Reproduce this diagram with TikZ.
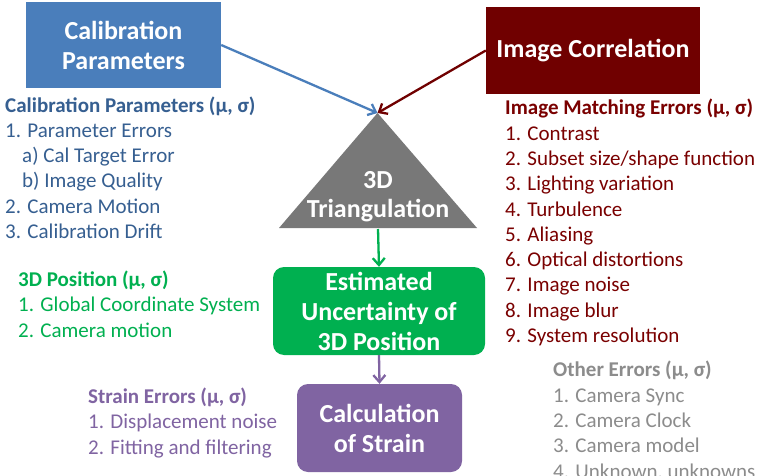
\documentclass[tikz,border=0pt]{standalone}
\usepackage{fontspec}
\setmainfont{Carlito}
\usetikzlibrary{arrows.meta}
\definecolor{cblue}{HTML}{4A7EBB}
\definecolor{tblue}{HTML}{365F91}
\definecolor{cred}{HTML}{700000}
\definecolor{tred}{HTML}{7A0000}
\definecolor{cgreen}{HTML}{00B050}
\definecolor{cpurple}{HTML}{8064A2}
\definecolor{cgray}{HTML}{787878}
\definecolor{tgray}{HTML}{8C8C8C}
\tikzset{
  boxfont/.style={font=\fontsize{26}{30}\selectfont\bfseries, text=white, align=center},
  sqbox/.style={boxfont, draw=none, inner sep=0pt},
  rbox/.style={boxfont, draw=none, inner sep=0pt, rounded corners=11pt},
  listtxt/.style={font=\fontsize{21}{25.3}\selectfont, align=left, anchor=base west, inner sep=0pt},
  conn/.style={line width=2.3pt, -{Straight Barb[length=7pt,width=12pt,line width=2.3pt]}},
}
\begin{document}
\begin{tikzpicture}[x=1pt,y=-1pt]
\useasboundingbox (0,0) rectangle (760,476);
\clip (0,0) rectangle (760,476);
\fill[white] (0,0) rectangle (760,476);

% boxes
\node[sqbox, fill=cblue, minimum width=195pt, minimum height=86pt] (calib) at (123.5,45) {Calibration\\Parameters};
\node[sqbox, fill=cred, minimum width=214pt, minimum height=87pt] (imgcorr) at (593,50.5) {Image Correlation};

% triangle
\coordinate (apex) at (377.5,113);
\coordinate (baseL) at (279,228);
\coordinate (baseR) at (477,228);
\coordinate (basemid) at (378,229);
\fill[cgray] (apex) -- (baseR) -- (baseL) -- cycle;
\node[boxfont, anchor=base, inner sep=0pt, font=\fontsize{26}{29}\selectfont\bfseries] (tri) at (378,217) {3D\\Triangulation};

\node[rbox, fill=cgreen, minimum width=212pt, minimum height=88pt] (est) at (379,311) {Estimated\\Uncertainty of\\3D Position};
\node[rbox, fill=cpurple, minimum width=165pt, minimum height=88pt] (strain) at (379.5,428) {Calculation\\of Strain};

% connectors
\draw[conn, cblue] (calib.east) -- (apex);
\draw[conn, cred] (imgcorr.west) -- (apex);
\draw[conn, cgreen] (basemid) -- (est.north);
\draw[conn, cpurple] (est.south) -- (strain.north);

% lists (anchor = baseline of the last line)
\node[listtxt, text=tblue] (calist) at (5,238.5) {\textbf{Calibration Parameters (μ, σ)}\\
1. Parameter Errors\\
\hspace*{17pt}a) Cal Target Error\\
\hspace*{17pt}b) Image Quality\\
2. Camera Motion\\
3. Calibration Drift};

\node[listtxt, text=tred] (imlist) at (505,342.5) {\textbf{Image Matching Errors (μ, σ)}\\
1. Contrast\\
2. Subset size/shape function\\
3. Lighting variation\\
4. Turbulence\\
5. Aliasing\\
6. Optical distortions\\
7. Image noise\\
8. Image blur\\
9. System resolution};

\node[listtxt, text=cgreen] (poslist) at (18,337) {\textbf{3D Position (μ, σ)}\\
1. Global Coordinate System\\
2. Camera motion};

\node[listtxt, text=cpurple] (stlist) at (88,454) {\textbf{Strain Errors (μ, σ)}\\
1. Displacement noise\\
2. Fitting and filtering};

\node[listtxt, text=tgray] (othlist) at (553,478) {\textbf{Other Errors (μ, σ)}\\
1. Camera Sync\\
2. Camera Clock\\
3. Camera model\\
4. Unknown, unknowns};
\end{tikzpicture}
\end{document}
